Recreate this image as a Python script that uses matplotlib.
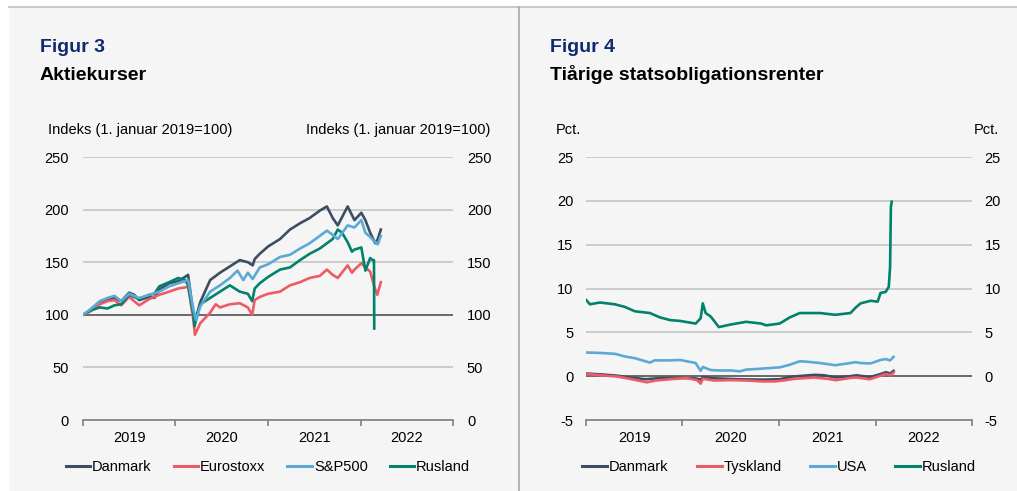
import matplotlib
matplotlib.use("Agg")
import matplotlib.pyplot as plt
from matplotlib.lines import Line2D
from matplotlib.patches import Rectangle
import pandas as pd

plt.rcParams['font.family'] = ['Liberation Sans', 'DejaVu Sans']

# Figur 3 - aktiekurser (indeks, 1. januar 2019 = 100)
dk_dates = ['2019-01-01', '2019-01-29', '2019-03-08', '2019-04-08', '2019-05-05', '2019-06-01',
            '2019-07-02', '2019-07-22', '2019-08-11', '2019-09-20', '2019-10-10', '2019-10-29',
            '2019-12-07', '2020-01-12', '2020-02-08', '2020-02-20', '2020-03-12', '2020-03-20',
            '2020-04-08', '2020-05-17', '2020-06-25', '2020-08-03', '2020-09-11', '2020-10-13',
            '2020-11-01', '2020-11-09', '2020-11-29', '2021-01-01', '2021-02-17', '2021-03-28',
            '2021-05-07', '2021-06-14', '2021-07-24', '2021-08-21', '2021-09-13', '2021-10-03',
            '2021-11-11', '2021-12-08', '2022-01-04', '2022-01-20', '2022-02-08', '2022-02-28',
            '2022-03-10', '2022-03-22']
dk_vals = [100, 104, 111, 114, 116, 113, 121, 119, 114, 117, 116, 124,
           130, 132, 136, 138, 100, 95, 112, 133, 140, 146, 152, 150,
           147, 153, 158, 165, 172, 181, 187, 192, 199, 203, 192, 185,
           203, 190, 197, 190, 178, 168, 172, 181]

sp_dates = ['2019-01-01', '2019-01-29', '2019-03-08', '2019-04-08', '2019-05-05', '2019-06-01',
            '2019-07-02', '2019-08-11', '2019-09-20', '2019-10-29', '2019-12-07', '2020-01-12',
            '2020-02-08', '2020-02-20', '2020-03-12', '2020-03-22', '2020-04-08', '2020-05-17',
            '2020-06-25', '2020-08-03', '2020-09-02', '2020-09-25', '2020-10-13', '2020-11-01',
            '2020-11-29', '2021-01-01', '2021-02-17', '2021-03-28', '2021-05-07', '2021-06-14',
            '2021-07-24', '2021-08-21', '2021-09-13', '2021-10-03', '2021-11-11', '2021-12-08',
            '2022-01-04', '2022-01-20', '2022-02-08', '2022-02-28', '2022-03-10', '2022-03-22']
sp_vals = [100, 105, 113, 116, 118, 113, 120, 116, 119, 122, 127, 130,
           132, 133, 105, 95, 108, 122, 128, 135, 142, 133, 140, 134,
           145, 148, 155, 157, 163, 168, 175, 180, 176, 172, 185, 183,
           190, 178, 174, 169, 167, 175]

eu_dates = ['2019-01-01', '2019-01-29', '2019-03-08', '2019-04-08', '2019-05-05', '2019-06-01',
            '2019-07-02', '2019-08-11', '2019-09-20', '2019-10-29', '2019-12-07', '2020-01-12',
            '2020-02-08', '2020-02-20', '2020-03-12', '2020-03-18', '2020-04-08', '2020-05-17',
            '2020-06-08', '2020-06-25', '2020-08-03', '2020-09-11', '2020-10-13', '2020-10-30',
            '2020-11-09', '2020-11-29', '2021-01-01', '2021-02-17', '2021-03-28', '2021-05-07',
            '2021-06-14', '2021-07-24', '2021-08-21', '2021-09-13', '2021-10-03', '2021-11-11',
            '2021-11-28', '2021-12-08', '2022-01-04', '2022-01-20', '2022-02-08', '2022-02-24',
            '2022-03-08', '2022-03-22']
eu_vals = [100, 103, 110, 113, 114, 109, 117, 109, 115, 119, 122, 125,
           126, 127, 95, 81, 92, 102, 110, 107, 110, 111, 107, 100,
           114, 117, 120, 122, 128, 131, 135, 137, 143, 138, 135, 147,
           140, 143, 149, 145, 141, 127, 119, 131]

ru_dates = ['2019-01-01', '2019-01-29', '2019-03-08', '2019-04-08', '2019-05-05', '2019-06-01',
            '2019-07-02', '2019-08-11', '2019-09-20', '2019-10-10', '2019-10-29', '2019-12-07',
            '2020-01-12', '2020-02-08', '2020-02-20', '2020-03-12', '2020-03-16', '2020-04-08',
            '2020-05-17', '2020-06-25', '2020-08-03', '2020-09-11', '2020-10-13', '2020-10-30',
            '2020-11-09', '2020-11-29', '2021-01-01', '2021-02-17', '2021-03-28', '2021-05-07',
            '2021-06-14', '2021-07-24', '2021-08-21', '2021-09-13', '2021-10-03', '2021-10-20',
            '2021-11-11', '2021-11-28', '2021-12-08', '2022-01-04', '2022-01-20', '2022-02-08',
            '2022-02-17', '2022-02-23', '2022-02-24']
ru_vals = [100, 104, 107, 106, 109, 110, 119, 115, 119, 120, 127, 131,
           135, 133, 128, 100, 89, 110, 116, 122, 128, 122, 120, 113,
           125, 130, 136, 143, 145, 152, 158, 163, 168, 172, 181, 178,
           169, 160, 162, 164, 142, 154, 152, 152, 87]

# Figur 4 - tiaarige statsobligationsrenter (pct.)
r_ru_dates = ['2019-01-01', '2019-01-16', '2019-02-23', '2019-04-20', '2019-05-28', '2019-07-05',
              '2019-08-31', '2019-10-08', '2019-11-15', '2019-12-23', '2020-02-20', '2020-03-10',
              '2020-03-18', '2020-03-29', '2020-04-17', '2020-05-18', '2020-07-03', '2020-08-29',
              '2020-10-25', '2020-11-13', '2021-01-03', '2021-02-10', '2021-03-20', '2021-06-05',
              '2021-08-01', '2021-09-28', '2021-10-17', '2021-11-05', '2021-12-13', '2022-01-09',
              '2022-01-20', '2022-02-08', '2022-02-20', '2022-02-25', '2022-02-28', '2022-03-03']
r_ru_vals = [8.7, 8.2, 8.4, 8.2, 7.9, 7.4, 7.2, 6.7, 6.4, 6.3, 6.0, 6.6,
             8.3, 7.2, 6.8, 5.6, 5.9, 6.2, 6.0, 5.8, 6.0, 6.7, 7.2, 7.2,
             7.0, 7.2, 7.8, 8.3, 8.6, 8.5, 9.5, 9.6, 10.2, 12.5, 19.3, 19.9]

r_us_dates = ['2019-01-01', '2019-02-23', '2019-04-20', '2019-05-28', '2019-07-05', '2019-08-31',
              '2019-09-18', '2019-11-15', '2019-12-23', '2020-02-20', '2020-03-10', '2020-03-18',
              '2020-04-17', '2020-05-18', '2020-07-03', '2020-08-05', '2020-08-29', '2020-10-25',
              '2020-11-13', '2021-01-03', '2021-02-10', '2021-03-20', '2021-04-15', '2021-06-05',
              '2021-08-01', '2021-09-28', '2021-10-17', '2021-11-05', '2021-12-13', '2022-01-20',
              '2022-02-08', '2022-02-25', '2022-03-10']
r_us_vals = [2.7, 2.65, 2.55, 2.25, 2.05, 1.55, 1.8, 1.8, 1.85, 1.5, 0.6, 1.05,
             0.7, 0.65, 0.65, 0.55, 0.75, 0.85, 0.9, 1.0, 1.3, 1.7, 1.65, 1.5,
             1.25, 1.5, 1.6, 1.5, 1.45, 1.85, 1.95, 1.8, 2.2]

r_dk_dates = ['2019-01-01', '2019-03-01', '2019-05-01', '2019-06-01', '2019-08-15', '2019-10-15',
              '2019-12-15', '2020-02-20', '2020-03-10', '2020-03-18', '2020-05-01', '2020-08-01',
              '2020-11-01', '2021-01-03', '2021-02-20', '2021-05-15', '2021-06-20', '2021-08-05',
              '2021-09-28', '2021-10-20', '2021-12-10', '2022-01-10', '2022-02-10', '2022-02-25',
              '2022-03-10']
r_dk_vals = [0.3, 0.2, 0.05, -0.1, -0.35, -0.2, -0.2, -0.25, -0.4, -0.1, -0.25, -0.35,
             -0.4, -0.35, -0.05, 0.15, 0.1, -0.15, 0.0, 0.1, -0.1, 0.15, 0.45, 0.3, 0.6]

r_de_dates = ['2019-01-01', '2019-03-01', '2019-05-01', '2019-06-15', '2019-08-20', '2019-09-20',
              '2019-11-15', '2020-01-15', '2020-02-25', '2020-03-10', '2020-03-18', '2020-05-01',
              '2020-07-01', '2020-09-01', '2020-11-01', '2020-12-15', '2021-01-15', '2021-03-01',
              '2021-05-15', '2021-07-01', '2021-08-05', '2021-09-28', '2021-10-20', '2021-12-10',
              '2022-01-10', '2022-02-10', '2022-02-25', '2022-03-10']
r_de_vals = [0.25, 0.1, -0.05, -0.3, -0.7, -0.5, -0.35, -0.2, -0.45, -0.85, -0.3, -0.5,
             -0.45, -0.5, -0.6, -0.6, -0.5, -0.3, -0.15, -0.3, -0.45, -0.2, -0.15, -0.35,
             -0.05, 0.25, 0.1, 0.4]

years = [2019, 2020, 2021, 2022]

c_dk = '#3b4e62'
c_eu = '#ee5b64'
c_us = '#5ca9d6'
c_ru = '#00826b'
bg = '#f5f5f5'
navy = '#0f2a6e'
fs = 10.5
tfs = 14

fig = plt.figure(figsize=(10.17, 4.91), dpi=100)
fig.patch.set_facecolor('white')
fig.patches.append(Rectangle((9 / 1017, 0), 1, 1 - 7 / 491, transform=fig.transFigure,
                             facecolor=bg, edgecolor='none', zorder=-10))
fig.lines.append(Line2D([9 / 1017, 1], [1 - 7 / 491, 1 - 7 / 491], transform=fig.transFigure,
                        color='#c0c0c0', lw=1.2))
fig.lines.append(Line2D([519 / 1017, 519 / 1017], [0, 1 - 7 / 491], transform=fig.transFigure,
                        color='#a8a8a8', lw=1.2))


def px(x, y):
    return x / 1017, 1 - y / 491


def setup(ax, yticks, base, pad):
    ax.set_facecolor('none')
    ax.set_xlim(pd.Timestamp('2019-01-01'), pd.Timestamp('2023-01-01'))
    ax.set_ylim(yticks[0], yticks[-1])
    ax.set_yticks(yticks)
    ax.set_yticklabels([str(t) for t in yticks])
    ax.tick_params(axis='y', length=0, labelsize=fs, labelleft=True, labelright=True, pad=pad)
    ax.grid(axis='y', color='#c4c4c4', lw=1.2)
    ax.set_axisbelow(True)
    ax.axhline(base, color='#595959', lw=1.2, zorder=1)
    for s in ['top', 'left', 'right']:
        ax.spines[s].set_visible(False)
    ax.spines['bottom'].set_color('#7f7f7f')
    ax.spines['bottom'].set_linewidth(1.2)
    ax.set_xticks([pd.Timestamp(f'{y}-01-01') for y in years + [2023]])
    ax.set_xticklabels([])
    ax.set_xticks([pd.Timestamp(f'{y}-07-02') for y in years], minor=True)
    ax.set_xticklabels([str(y) for y in years], minor=True)
    ax.tick_params(axis='x', which='major', length=4, width=1.2, color='#7f7f7f', direction='out')
    ax.tick_params(axis='x', which='minor', length=0, pad=8, labelsize=fs)


handles = [Line2D([], [], color=c, lw=2.2) for c in [c_dk, c_eu, c_us, c_ru]]

# ---- Figur 3 ----
ax1 = fig.add_axes([83 / 1017, 1 - 420 / 491, 370 / 1017, 263 / 491])
setup(ax1, [0, 50, 100, 150, 200, 250], 100, 10)
ax1.plot(pd.to_datetime(eu_dates), eu_vals, color=c_eu, lw=1.9, zorder=3)
ax1.plot(pd.to_datetime(ru_dates), ru_vals, color=c_ru, lw=1.9, zorder=4)
ax1.plot(pd.to_datetime(sp_dates), sp_vals, color=c_us, lw=1.9, zorder=5)
ax1.plot(pd.to_datetime(dk_dates), dk_vals, color=c_dk, lw=1.9, zorder=2)

fig.text(*px(40, 48), 'Figur 3', color=navy, fontsize=tfs, fontweight='bold', va='center')
fig.text(*px(40, 75), 'Aktiekurser', color='black', fontsize=tfs, fontweight='bold', va='center')
fig.text(*px(48, 130), 'Indeks (1. januar 2019=100)', fontsize=fs, va='center')
fig.text(*px(490, 130), 'Indeks (1. januar 2019=100)', fontsize=fs, va='center', ha='right')

ax1.legend(handles, ['Danmark', 'Eurostoxx', 'S&P500', 'Rusland'], ncol=4, frameon=False,
           loc='center', bbox_to_anchor=(0.5, -0.179), fontsize=fs, handlelength=1.7,
           handletextpad=0.12, columnspacing=1.5, borderaxespad=0)

# ---- Figur 4 ----
ax2 = fig.add_axes([586 / 1017, 1 - 420 / 491, 386 / 1017, 263 / 491])
setup(ax2, [-5, 0, 5, 10, 15, 20, 25], 0, 9)
ax2.plot(pd.to_datetime(r_ru_dates), r_ru_vals, color=c_ru, lw=1.9, zorder=3)
ax2.plot(pd.to_datetime(r_us_dates), r_us_vals, color=c_us, lw=1.9, zorder=3)
ax2.plot(pd.to_datetime(r_dk_dates), r_dk_vals, color=c_dk, lw=1.9, zorder=3)
ax2.plot(pd.to_datetime(r_de_dates), r_de_vals, color=c_eu, lw=1.9, zorder=4)

fig.text(*px(550, 48), 'Figur 4', color=navy, fontsize=tfs, fontweight='bold', va='center')
fig.text(*px(550, 75), 'Tiårige statsobligationsrenter', color='black', fontsize=tfs,
         fontweight='bold', va='center')
fig.text(*px(556, 130), 'Pct.', fontsize=fs, va='center')
fig.text(*px(999, 130), 'Pct.', fontsize=fs, va='center', ha='right')

ax2.legend(handles, ['Danmark', 'Tyskland', 'USA', 'Rusland'], ncol=4, frameon=False,
           loc='center', bbox_to_anchor=(0.5, -0.179), fontsize=fs, handlelength=1.7,
           handletextpad=0.12, columnspacing=1.95, borderaxespad=0)

fig.savefig('out.png', dpi=100)
